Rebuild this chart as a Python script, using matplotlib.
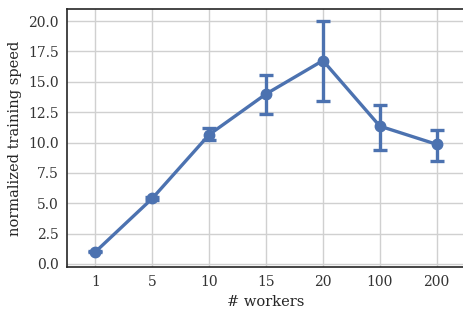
import matplotlib
matplotlib.use("Agg")
import matplotlib.pyplot as plt
import numpy as np

workers = ["1", "5", "10", "15", "20", "100", "200"]
speed = [1.0, 5.4, 10.65, 14.0, 16.75, 11.35, 9.85]
err_low = [0.95, 5.3, 10.2, 12.35, 13.4, 9.38, 8.48]
err_high = [1.05, 5.5, 11.2, 15.55, 20.0, 13.08, 11.02]
yticks = [0.0, 2.5, 5.0, 7.5, 10.0, 12.5, 15.0, 17.5, 20.0]

plt.rcParams['font.family'] = ['DejaVu Serif']
fig = plt.figure(figsize=(4.64, 3.09), dpi=100)
ax = fig.add_axes([0.1444, 0.136, 0.858, 0.835])

x = np.arange(len(workers))
s = np.array(speed)
yerr = [s - np.array(err_low), np.array(err_high) - s]
color = "#4C72B0"
ax.errorbar(x, s, yerr=yerr, color=color, lw=2.4, marker='o', ms=7.5,
            capsize=5, capthick=2.4, elinewidth=2.4, zorder=3)

ax.set_xlim(-0.5, len(workers) - 0.5)
ax.set_ylim(-0.25, 21.0)
ax.set_xticks(x)
ax.set_xticklabels(workers)
ax.set_yticks(yticks)
ax.set_yticklabels([f"{v:.1f}" for v in yticks])
ax.grid(True, color="#d0d0d0", lw=1.0)
ax.set_axisbelow(True)
ax.tick_params(length=0, labelsize=10, colors="#333333", pad=6)
for sp in ax.spines.values():
    sp.set_color("#262626")
    sp.set_linewidth(1.2)
ax.set_xlabel("# workers", fontsize=10.5, color="#262626", labelpad=4)
ax.set_ylabel("normalized training speed", fontsize=10.5, color="#262626", labelpad=4)

fig.savefig("out.png", dpi=100)
